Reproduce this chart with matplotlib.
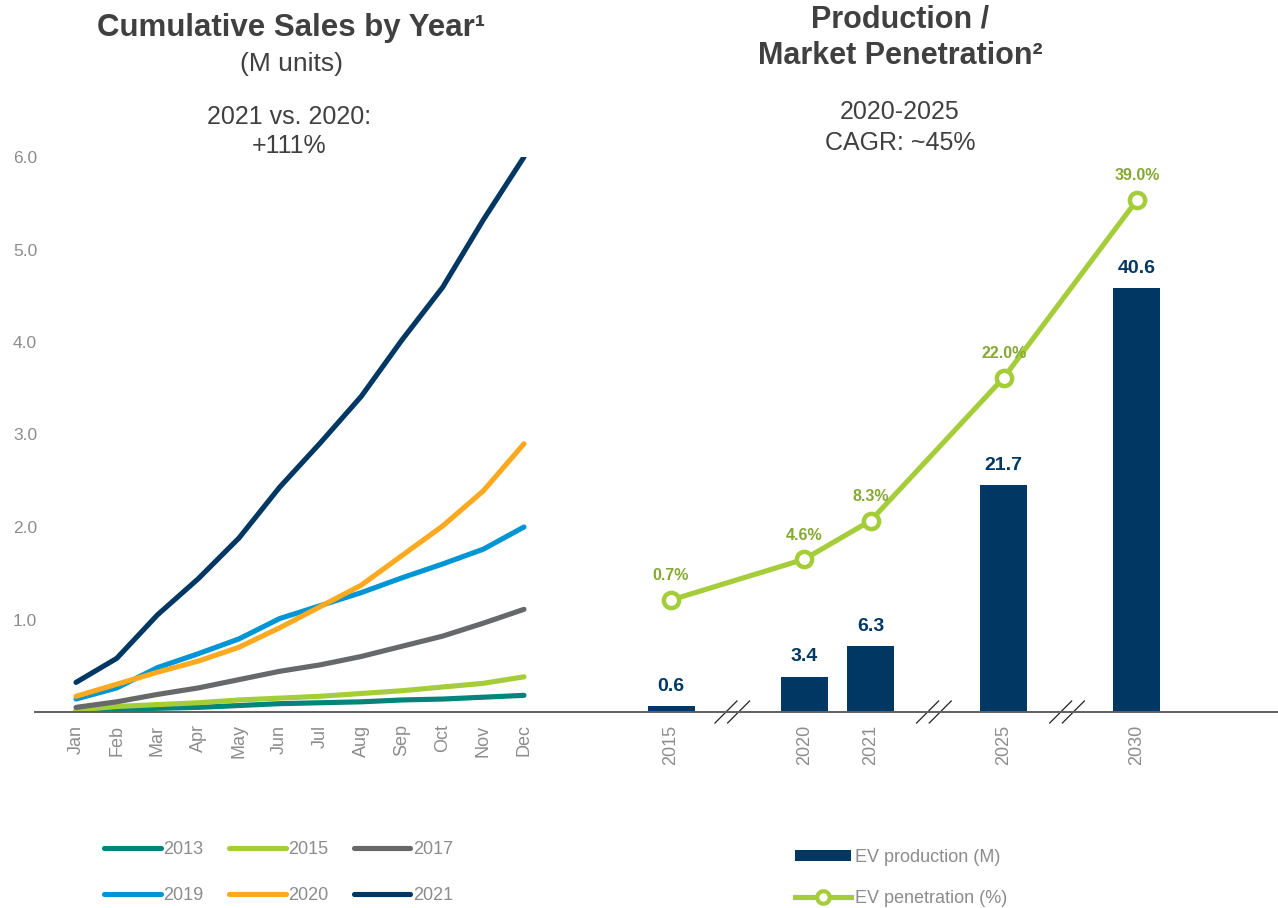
import matplotlib
matplotlib.use("Agg")
import matplotlib.pyplot as plt
import matplotlib.transforms as mtransforms
from matplotlib.lines import Line2D
from matplotlib.patches import Patch
from matplotlib import font_manager
import numpy as np

plt.rcParams['font.family'] = ['Liberation Sans', 'DejaVu Sans']

# ---------------- data ----------------
months = ["Jan", "Feb", "Mar", "Apr", "May", "Jun", "Jul", "Aug", "Sep", "Oct", "Nov", "Dec"]
sales_2013 = [0.01, 0.03, 0.04, 0.05, 0.07, 0.09, 0.10, 0.11, 0.13, 0.14, 0.16, 0.18]
sales_2015 = [0.02, 0.06, 0.08, 0.10, 0.13, 0.15, 0.17, 0.20, 0.23, 0.27, 0.31, 0.38]
sales_2017 = [0.05, 0.11, 0.19, 0.26, 0.35, 0.44, 0.51, 0.60, 0.71, 0.82, 0.96, 1.11]
sales_2019 = [0.14, 0.26, 0.48, 0.63, 0.79, 1.01, 1.15, 1.29, 1.45, 1.60, 1.76, 2.00]
sales_2020 = [0.17, 0.30, 0.43, 0.55, 0.70, 0.91, 1.14, 1.37, 1.69, 2.01, 2.39, 2.90]
sales_2021 = [0.32, 0.58, 1.05, 1.44, 1.88, 2.43, 2.91, 3.41, 4.02, 4.59, 5.32, 6.00]
series_years = ["2013", "2015", "2017", "2019", "2020", "2021"]
series_colors = ["#00857A", "#A5CD39", "#666869", "#0096D6", "#FBAA1F", "#003863"]
yticks_left = [1.0, 2.0, 3.0, 4.0, 5.0, 6.0]

prod_years = ["2015", "2020", "2021", "2025", "2030"]
prod_slots = [0, 2, 3, 5, 7]          # categorical slots (gaps for axis breaks)
break_slots = [0.92, 3.95, 5.95]
ev_production = [0.6, 3.4, 6.3, 21.7, 40.6]
ev_penetration = [0.7, 4.6, 8.3, 22.0, 39.0]

navy = "#003863"
lgreen = "#A5CD39"
dgreen = "#85A832"
title_col = "#404040"
tick_col = "#8C8C8C"

avail = {f.name for f in font_manager.fontManager.ttflist}
narrow = ['Liberation Sans Narrow', 'Liberation Sans'] if 'Liberation Sans Narrow' in avail else ['Liberation Sans']
val_size = 15 if 'Liberation Sans Narrow' in avail else 14

W, H = 1278, 908
fig = plt.figure(figsize=(W / 100, H / 100), dpi=100)

def ax_px(l, r, top, bottom):
    return fig.add_axes([l / W, 1 - bottom / H, (r - l) / W, (bottom - top) / H])

# ---------------- left chart ----------------
axL = ax_px(40, 535, 157, 712)
all_sales = [sales_2013, sales_2015, sales_2017, sales_2019, sales_2020, sales_2021]
x = np.arange(len(months))
lines = []
for yr, col, vals in zip(series_years, series_colors, all_sales):
    ln, = axL.plot(x, vals, color=col, lw=3.7, solid_capstyle='round',
                   solid_joinstyle='round', label=yr)
    lines.append(ln)
axL.set_ylim(0, 6.0)
axL.set_xlim(-(76 - 40) / 40.73, 11 + 11 / 40.73)
axL.set_yticks(yticks_left)
axL.set_yticklabels([f"{v:.1f}" for v in yticks_left])
axL.set_xticks(x)
axL.set_xticklabels(months, rotation=90)
axL.tick_params(axis='both', length=0, labelsize=12.5, colors=tick_col)
axL.tick_params(axis='y', pad=2)
axL.tick_params(axis='x', pad=9, labelsize=13)
for s in axL.spines.values():
    s.set_visible(False)

# ---------------- right chart ----------------
axR = ax_px(600, 1278, 157, 712)
bw = 47 / 66.5
axR.bar(prod_slots, ev_production, width=bw, color=navy, label="EV production (M)", zorder=2)
ytop = (712 - 157) / 10.44
axR.set_ylim(0, ytop)
axR.set_xlim(-(671 - 600) / 66.5, 7 + (1278 - 1137) / 66.5)
axR.set_xticks(prod_slots)
axR.set_xticklabels(prod_years, rotation=90)
axR.set_yticks([])
axR.tick_params(axis='x', length=0, labelsize=13, colors=tick_col, pad=9)
for s in axR.spines.values():
    s.set_visible(False)
for xs, v in zip(prod_slots, ev_production):
    axR.annotate(f"{v:.1f}", (xs, v), xytext=(0, 8), textcoords='offset points',
                 ha='center', va='bottom', fontsize=val_size, fontweight='bold',
                 color=navy, family=narrow)

axP = axR.twinx()
off = 105 / 10.47
axP.set_ylim(-off, ytop - off)
axP.plot(prod_slots, ev_penetration, color=lgreen, lw=3.7, marker='o', ms=11,
         mfc='white', mec=lgreen, mew=3.2, label="EV penetration (%)", zorder=3)
for xs, v in zip(prod_slots, ev_penetration):
    axP.annotate(f"{v:.1f}%", (xs, v), xytext=(0, 12), textcoords='offset points',
                 ha='center', va='bottom', fontsize=11.5, fontweight='bold', color=dgreen)
axP.set_yticks([])
for s in axP.spines.values():
    s.set_visible(False)

# axis break marks
trans = mtransforms.blended_transform_factory(axR.transData, fig.dpi_scale_trans)
base_in = (H - 712) / 100
for b in break_slots:
    for dx in (-0.095, 0.095):
        axR.plot([b + dx - 0.165, b + dx + 0.165], [base_in - 0.11, base_in + 0.11],
                 color="#222222", lw=0.9, transform=trans, clip_on=False)

# shared baseline
fig.add_artist(Line2D([35 / W, 1.0], [1 - 712 / H, 1 - 712 / H], color="#606060", lw=1.4))

# ---------------- titles ----------------
def ftext(xp, yp, s, **kw):
    fig.text(xp / W, 1 - yp / H, s, ha='center', va='center', color=title_col, **kw)

ftext(291, 28, "Cumulative Sales by Year¹", fontsize=22.5, fontweight='bold')
ftext(291, 64, "(M units)", fontsize=19)
ftext(289, 117, "2021 vs. 2020:", fontsize=18)
ftext(289, 146, "+111%", fontsize=18)
ftext(900, 19, "Production /", fontsize=22, fontweight='bold')
ftext(900, 56, "Market Penetration²", fontsize=22, fontweight='bold')
ftext(900, 112, "2020-2025", fontsize=18)
ftext(900, 143, "CAGR: ~45%", fontsize=18)

# ---------------- legends ----------------
order = [0, 3, 1, 4, 2, 5]
legL = fig.legend([lines[i] for i in order], [series_years[i] for i in order],
                  ncol=3, loc='upper left', bbox_to_anchor=(104 / W, 1 - 841 / H),
                  frameon=False, fontsize=13, handlelength=3.15, handletextpad=0.15,
                  columnspacing=1.38, labelspacing=1.6, borderpad=0, borderaxespad=0)
for t in legL.get_texts():
    t.set_color(tick_col)

h1 = Patch(facecolor=navy, edgecolor='none')
h2 = Line2D([], [], color=lgreen, lw=3.7, marker='o', ms=9, mfc='white', mec=lgreen, mew=3)
legR = fig.legend([h1, h2], ["EV production (M)", "EV penetration (%)"],
                  loc='upper left', bbox_to_anchor=(795 / W, 1 - 849 / H),
                  frameon=False, fontsize=13, handlelength=3.1, handletextpad=0.2,
                  labelspacing=1.35, borderpad=0, borderaxespad=0, handleheight=0.55)
for t in legR.get_texts():
    t.set_color(tick_col)

fig.savefig("out.png", dpi=100)
